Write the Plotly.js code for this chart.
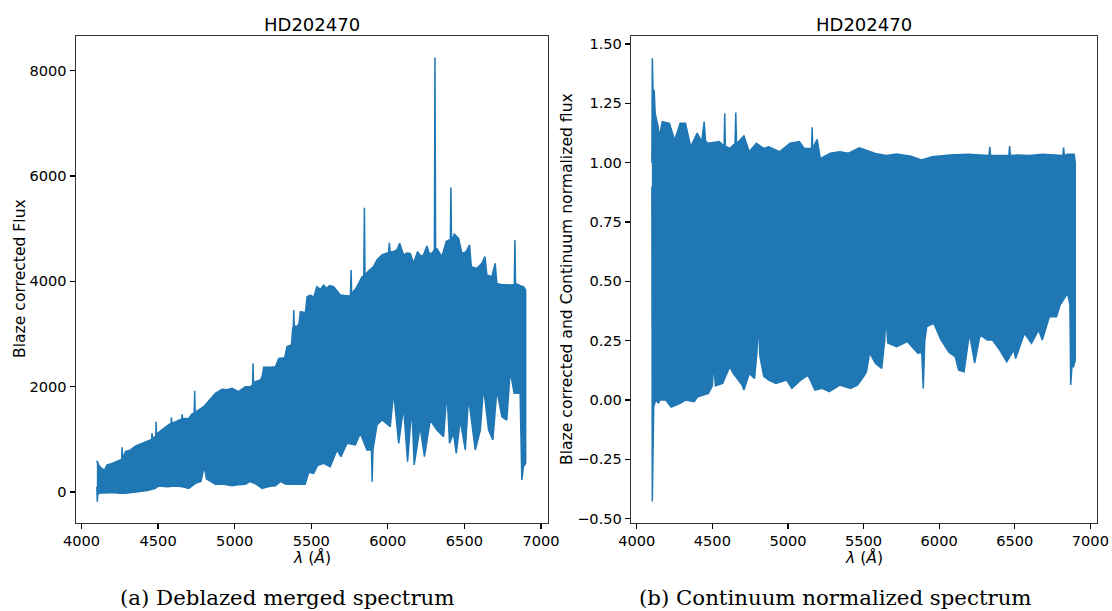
<!DOCTYPE html>
<html>
<head>
<meta charset="utf-8">
<script src="https://cdn.plot.ly/plotly-3.0.1.min.js"></script>
<style>html,body{margin:0;padding:0;background:#fff;}#chart{width:1112px;height:611px;}</style>
</head>
<body>
<div id="chart"></div>
<script>
// ---------- DATA ----------
const titleText = "HD202470";
const captionA = "(a) Deblazed merged spectrum";
const captionB = "(b) Continuum normalized spectrum";

// Left panel: deblazed merged spectrum, upper envelope
const leftUpLambda = [4100,4102,4115,4130,4150,4167,4200,4230,4254,4262,4265,4268,4287,4320,4352,4396,4429,4450,4458,4460,4463,4485,4487,4490,4500,4548,4570,4585,4587,4590,4613,4640,4655,4657,4660,4700,4720,4736,4739,4742,4748,4798,4831,4874,4918,4950,4983,5026,5050,5070,5103,5117,5120,5123,5135,5168,5180,5190,5230,5266,5288,5327,5342,5371,5379,5383,5386,5389,5408,5420,5429,5462,5473,5495,5516,5537,5560,5581,5600,5620,5646,5670,5690,5745,5756,5760,5764,5799,5832,5843,5847,5851,5875,5907,5929,5962,5990,6005,6010,6015,6038,6060,6077,6103,6125,6147,6168,6194,6215,6233,6255,6270,6288,6304,6308,6312,6321,6353,6381,6397,6408,6412,6416,6434,6462,6484,6510,6534,6545,6582,6614,6634,6647,6679,6701,6712,6740,6777,6810,6826,6830,6834,6843,6870,6886,6900];
const leftUpFlux   = [560,589,500,450,418,513,540,580,620,620,848,640,766,800,873,924,975,1000,1000,1114,1020,1060,1335,1080,1126,1240,1280,1300,1418,1300,1335,1370,1380,1475,1390,1399,1480,1500,1924,1510,1525,1620,1728,1874,1950,1940,1969,1906,1960,2000,2000,2030,2444,2060,2095,2127,2200,2367,2370,2380,2538,2551,2760,2791,3108,3150,3456,3160,3140,3200,3424,3405,3709,3741,3700,3899,3850,3930,3870,3920,3899,3800,3741,3722,3740,4216,3760,3899,4089,4100,5400,4120,4203,4279,4406,4501,4540,4550,4734,4560,4564,4600,4723,4501,4540,4532,4342,4564,4480,4501,4672,4540,4532,4600,8250,4620,4621,4469,4754,4786,4750,5780,4760,4899,4818,4532,4560,4691,4279,4247,4342,4469,4120,4089,4342,3962,3940,3930,3930,3940,4786,3950,3950,3910,3899,3836];
// Left panel: lower envelope
const leftLoLambda = [4100,4103,4106,4118,4150,4200,4250,4287,4330,4380,4430,4483,4504,4560,4613,4660,4700,4744,4780,4795,4805,4815,4874,4920,4983,5030,5070,5100,5140,5179,5230,5266,5300,5330,5380,5420,5460,5484,5516,5540,5581,5624,5668,5694,5733,5788,5820,5864,5893,5898,5903,5929,5962,6016,6038,6071,6103,6129,6157,6172,6211,6239,6277,6321,6364,6386,6403,6429,6447,6473,6506,6527,6571,6604,6625,6658,6686,6712,6745,6777,6799,6825,6864,6875,6886,6900];
const leftLoFlux   = [100,-184,-50,-13,-20,-10,-25,-25,-10,10,30,70,114,100,114,100,70,165,200,400,450,250,146,150,120,140,146,200,150,70,110,120,200,150,146,140,146,375,355,500,545,482,798,672,924,893,1114,798,800,196,800,1272,1367,1240,1900,924,1620,575,1620,513,1240,672,1367,1177,1051,1900,924,1114,735,1367,798,1800,798,1177,2000,1177,987,1937,1430,1367,2300,1873,1873,228,480,545];

// Right panel: continuum normalized spectrum, upper envelope
const rightUpLambda = [4100,4103,4108,4115,4122,4141,4150,4169,4216,4251,4287,4322,4357,4399,4430,4446,4455,4474,4545,4578,4582,4586,4615,4650,4655,4660,4709,4744,4791,4840,4873,4944,5014,5075,5108,5156,5160,5164,5193,5214,5280,5343,5400,5472,5578,5650,5719,5813,5883,5954,6071,6189,6330,6335,6340,6461,6466,6471,6518,6600,6682,6818,6823,6828,6846,6893,6900];
const rightUpFlux   = [1.0,1.44,1.30,1.306,1.208,1.152,1.11,1.173,1.166,1.095,1.166,1.166,1.067,1.124,1.09,1.173,1.09,1.082,1.089,1.07,1.208,1.07,1.06,1.08,1.211,1.08,1.113,1.046,1.082,1.06,1.067,1.046,1.082,1.089,1.06,1.06,1.149,1.06,1.098,1.017,1.04,1.046,1.04,1.063,1.039,1.03,1.036,1.027,1.011,1.025,1.032,1.036,1.03,1.067,1.03,1.03,1.07,1.03,1.032,1.03,1.036,1.03,1.064,1.03,1.036,1.036,1.0];
// Right panel: lower envelope
const rightLoLambda = [4100,4103,4106,4112,4126,4145,4152,4157,4162,4192,4228,4287,4322,4380,4404,4474,4500,4509,4520,4568,4615,4638,4697,4709,4744,4779,4795,4803,4815,4840,4873,4920,4991,5026,5085,5132,5179,5226,5273,5343,5413,5460,5507,5520,5540,5578,5620,5640,5648,5660,5719,5789,5859,5885,5895,5905,5918,5965,6012,6066,6106,6129,6165,6200,6235,6271,6318,6353,6400,6447,6494,6506,6564,6611,6658,6682,6729,6776,6800,6850,6865,6870,6878,6889,6900];
const rightLoFlux   = [0.9,-0.428,-0.3,-0.028,0.0,-0.014,0.0,0.098,0.0,0.0,-0.03,-0.014,0.0,-0.007,0.014,0.028,0.06,0.161,0.06,0.07,0.14,0.112,0.063,0.042,0.112,0.091,0.2,0.33,0.183,0.1,0.084,0.07,0.084,0.049,0.084,0.105,0.042,0.049,0.035,0.063,0.049,0.063,0.105,0.12,0.2,0.155,0.133,0.25,0.36,0.24,0.225,0.246,0.197,0.2,0.049,0.25,0.309,0.323,0.253,0.2,0.183,0.126,0.119,0.281,0.155,0.274,0.253,0.253,0.211,0.161,0.211,0.175,0.281,0.239,0.295,0.253,0.351,0.351,0.4,0.45,0.4,0.063,0.14,0.14,0.168];

// Tick labels
const xTickVals = [4000,4500,5000,5500,6000,6500,7000];
const xTickText = ["4000","4500","5000","5500","6000","6500","7000"];
const leftYTickVals = [0,2000,4000,6000,8000];
const leftYTickText = ["0","2000","4000","6000","8000"];
const rightYTickVals = [-0.5,-0.25,0,0.25,0.5,0.75,1.0,1.25,1.5];
const rightYTickText = ["\u22120.50","\u22120.25","0.00","0.25","0.50","0.75","1.00","1.25","1.50"];

// ---------- BUILD ----------
function band(upX, upY, loX, loY) {
  return {
    x: upX.concat(loX.slice().reverse()),
    y: upY.concat(loY.slice().reverse())
  };
}
const blue = "#1f77b4";
const L = band(leftUpLambda, leftUpFlux, leftLoLambda, leftLoFlux);
const R = band(rightUpLambda, rightUpFlux, rightLoLambda, rightLoFlux);

const traces = [
  {x: L.x, y: L.y, type: "scatter", mode: "lines", fill: "toself", fillcolor: blue,
   line: {color: blue, width: 1.5}, xaxis: "x", yaxis: "y", hoverinfo: "skip"},
  {x: R.x, y: R.y, type: "scatter", mode: "lines", fill: "toself", fillcolor: blue,
   line: {color: blue, width: 1.5}, xaxis: "x2", yaxis: "y2", hoverinfo: "skip"}
];

const W = 1112, H = 611;
const tickFont = {family: "DejaVu Sans", size: 14.6, color: "#000"};
function xa(d0, d1, anchor) {
  return {domain: [d0, d1], range: [3962, 7044], anchor: anchor,
    tickvals: xTickVals, ticktext: xTickText, ticks: "outside", ticklen: 5, tickwidth: 1.2, tickcolor: "#000",
    showline: true, linecolor: "#333", linewidth: 1.2, mirror: true, showgrid: false, zeroline: false,
    tickfont: tickFont, fixedrange: true};
}
function ya(range, vals, text, anchor) {
  return {domain: [1 - 522.7 / H, 1 - 35.7 / H], range: range, anchor: anchor,
    tickvals: vals, ticktext: text, ticks: "outside", ticklen: 5, tickwidth: 1.2, tickcolor: "#000",
    showline: true, linecolor: "#333", linewidth: 1.2, mirror: true, showgrid: false, zeroline: false,
    tickfont: tickFont, fixedrange: true};
}

const lx0 = 75.7 / W, lx1 = 547.7 / W, rx0 = 631 / W, rx1 = 1097 / W;
const labFont = {family: "DejaVu Sans", size: 15.6, color: "#000"};
const capFont = {family: "DejaVu Serif", size: 21.3, color: "#000"};
const annotations = [
  {text: titleText, x: (lx0 + lx1) / 2, y: 1 - 24 / H, xref: "paper", yref: "paper", showarrow: false,
   font: {family: "DejaVu Sans", size: 18, color: "#000"}, xanchor: "center", yanchor: "middle"},
  {text: titleText, x: (rx0 + rx1) / 2, y: 1 - 24 / H, xref: "paper", yref: "paper", showarrow: false,
   font: {family: "DejaVu Sans", size: 18, color: "#000"}, xanchor: "center", yanchor: "middle"},
  {text: "<i>λ</i> (<i>Å</i>)", x: (lx0 + lx1) / 2, y: 1 - 557 / H, xref: "paper", yref: "paper", showarrow: false,
   font: labFont, xanchor: "center", yanchor: "middle"},
  {text: "<i>λ</i> (<i>Å</i>)", x: (rx0 + rx1) / 2, y: 1 - 557 / H, xref: "paper", yref: "paper", showarrow: false,
   font: labFont, xanchor: "center", yanchor: "middle"},
  {text: "Blaze corrected Flux", x: 20 / W, y: 1 - 279 / H, xref: "paper", yref: "paper", showarrow: false,
   font: labFont, textangle: -90, xanchor: "center", yanchor: "middle"},
  {text: "Blaze corrected and Continuum normalized flux", x: 567 / W, y: 1 - 279 / H, xref: "paper", yref: "paper", showarrow: false,
   font: labFont, textangle: -90, xanchor: "center", yanchor: "middle"},
  {text: captionA, x: 287 / W, y: 1 - 597 / H, xref: "paper", yref: "paper", showarrow: false,
   font: capFont, xanchor: "center", yanchor: "middle"},
  {text: captionB, x: 835 / W, y: 1 - 597 / H, xref: "paper", yref: "paper", showarrow: false,
   font: capFont, xanchor: "center", yanchor: "middle"}
];

const layout = {
  width: W, height: H,
  margin: {l: 0, r: 0, t: 0, b: 0},
  paper_bgcolor: "#fff", plot_bgcolor: "#fff",
  showlegend: false,
  xaxis: xa(lx0, lx1, "y"),
  yaxis: ya([-583, 8665], leftYTickVals, leftYTickText, "x"),
  xaxis2: xa(rx0, rx1, "y2"),
  yaxis2: ya([-0.517, 1.535], rightYTickVals, rightYTickText, "x2"),
  annotations: annotations
};

Plotly.newPlot("chart", traces, layout, {displayModeBar: false, staticPlot: true});
</script>
</body>
</html>
